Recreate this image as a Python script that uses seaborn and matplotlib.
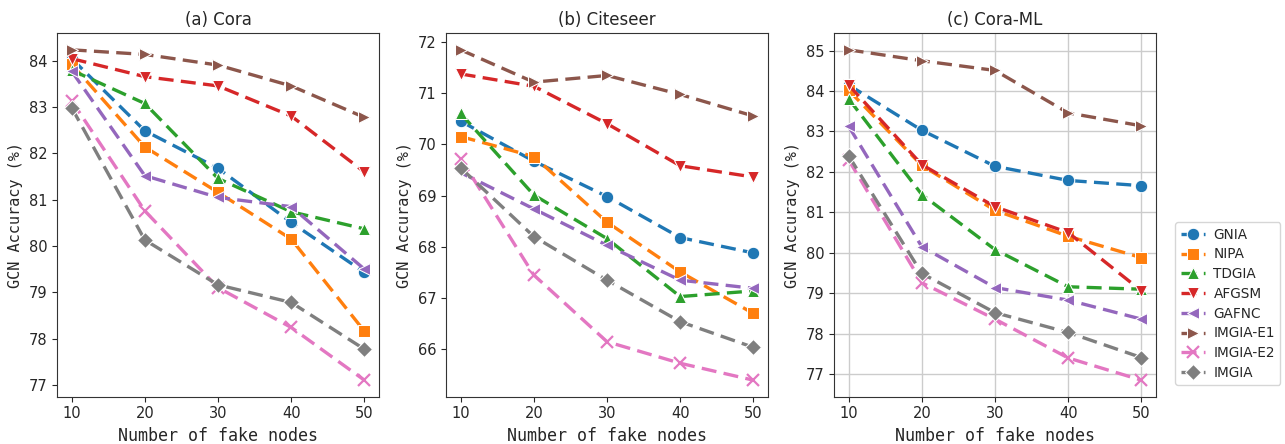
import numpy as np
import pandas as pd
import seaborn as sns
import matplotlib
matplotlib.use("Agg")
import matplotlib.pyplot as plt

nodes = [10, 20, 30, 40, 50]
methods = ["GNIA", "NIPA", "TDGIA", "AFGSM", "GAFNC", "IMGIA-E1", "IMGIA-E2", "IMGIA"]
markers = ["o", "s", "^", "v", "<", ">", "x", "D"]
titles = ["(a) Cora", "(b) Citeseer", "(c) Cora-ML"]

cora = {
    "GNIA":     [84.05, 82.49, 81.68, 80.51, 79.43],
    "NIPA":     [83.93, 82.14, 81.16, 80.15, 78.16],
    "TDGIA":    [83.80, 83.08, 81.46, 80.74, 80.37],
    "AFGSM":    [84.05, 83.66, 83.46, 82.81, 81.60],
    "GAFNC":    [83.78, 81.52, 81.05, 80.85, 79.50],
    "IMGIA-E1": [84.24, 84.14, 83.91, 83.46, 82.78],
    "IMGIA-E2": [83.14, 80.76, 79.10, 78.24, 77.10],
    "IMGIA":    [82.99, 80.13, 79.16, 78.78, 77.77],
}
citeseer = {
    "GNIA":     [70.45, 69.67, 68.98, 68.18, 67.88],
    "NIPA":     [70.15, 69.76, 68.48, 67.51, 66.70],
    "TDGIA":    [70.60, 69.01, 68.16, 67.03, 67.14],
    "AFGSM":    [71.37, 71.13, 70.40, 69.58, 69.36],
    "GAFNC":    [69.45, 68.74, 68.03, 67.35, 67.19],
    "IMGIA-E1": [71.84, 71.21, 71.34, 70.97, 70.55],
    "IMGIA-E2": [69.72, 67.45, 66.15, 65.73, 65.40],
    "IMGIA":    [69.54, 68.20, 67.35, 66.54, 66.04],
}
coraml = {
    "GNIA":     [84.15, 83.03, 82.14, 81.79, 81.66],
    "NIPA":     [84.02, 82.16, 81.05, 80.41, 79.88],
    "TDGIA":    [83.81, 81.44, 80.08, 79.16, 79.10],
    "AFGSM":    [84.15, 82.18, 81.14, 80.50, 79.06],
    "GAFNC":    [83.13, 80.15, 79.14, 78.83, 78.36],
    "IMGIA-E1": [85.02, 84.75, 84.51, 83.46, 83.14],
    "IMGIA-E2": [82.30, 79.26, 78.36, 77.40, 76.85],
    "IMGIA":    [82.40, 79.49, 78.52, 78.03, 77.41],
}
datasets = [cora, citeseer, coraml]

sns.set_style("ticks")
plt.rcParams["font.family"] = ["DejaVu Sans"]
palette = sns.color_palette("tab10", 8)

fig = plt.figure(figsize=(12.85, 4.44), dpi=100)
W, H = 1285, 444
lefts = [57, 446, 834]
width = 322
bottom_px, top_px = 396.7, 33.3
axes = []
for i in range(3):
    ax = fig.add_axes([lefts[i] / W, 1 - bottom_px / H, width / W, (bottom_px - top_px) / H])
    axes.append(ax)

for i, (ax, data) in enumerate(zip(axes, datasets)):
    for j, m in enumerate(methods):
        mk = markers[j]
        kw = dict(markersize=9 if mk != "D" else 8)
        if mk == "x":
            kw.update(markeredgewidth=1.6, markeredgecolor=palette[j])
        sns.lineplot(x=nodes, y=data[m], ax=ax, color=palette[j], marker=mk,
                     linestyle="--", linewidth=2.4, label=m, legend=False, **kw)
        ax.lines[-1].set_dashes((4.5, 2.2))
    ax.set_title(titles[i], fontsize=12)
    ax.set_xticks(nodes)
    ax.set_xlabel("Number of fake nodes", fontsize=12, family="DejaVu Sans Mono")
    ax.set_ylabel("GCN Accuracy (%)", fontsize=11, family="DejaVu Sans Mono")
    ax.tick_params(labelsize=10.5)
    for s in ax.spines.values():
        s.set_color("#333333")
    if i == 2:
        ax.grid(True, color="#cccccc", linewidth=1)

handles, labels = axes[2].get_legend_handles_labels()
axes[2].legend(handles, labels, loc="upper left", bbox_to_anchor=(1.06, 0.48),
               borderaxespad=0, fontsize=9.8, frameon=True, handlelength=1.8,
               handletextpad=0.6, borderpad=0.4, labelspacing=0.42)

fig.savefig("out.png", dpi=100)
